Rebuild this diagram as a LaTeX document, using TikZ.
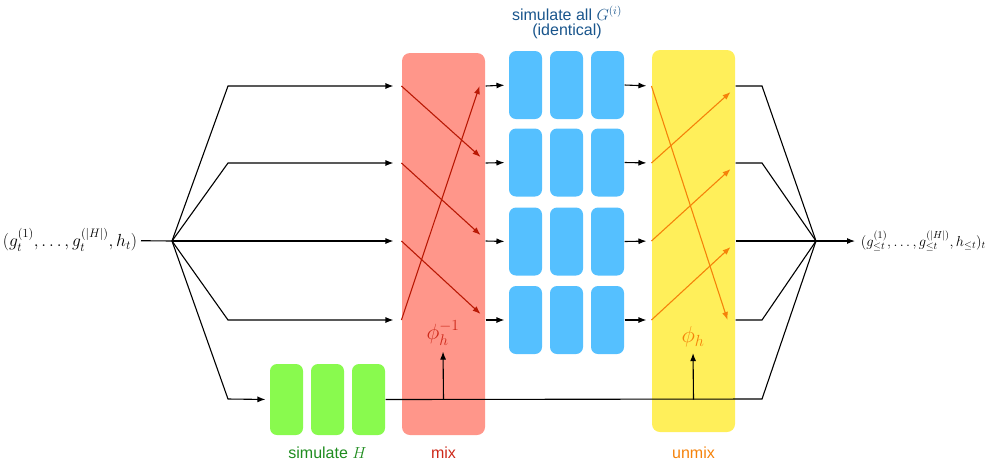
\documentclass[tikz,border=0pt]{standalone}
\usepackage{fix-cm}
\usepackage{amsmath}
\usepackage{amssymb}
\usepackage{fontspec}
\setmainfont{Liberation Sans}
\usetikzlibrary{arrows.meta,positioning}

\definecolor{mixfill}{RGB}{255,150,138}
\definecolor{mixline}{RGB}{185,25,5}
\definecolor{mixtext}{RGB}{205,40,25}
\definecolor{unmixfill}{RGB}{255,239,90}
\definecolor{unmixline}{RGB}{245,130,10}
\definecolor{gfill}{RGB}{85,192,255}
\definecolor{gtext}{RGB}{25,85,140}
\definecolor{hfill}{RGB}{137,250,78}
\definecolor{htext}{RGB}{30,140,30}

\begin{document}
\begin{tikzpicture}[
    x = 1pt, y = -1pt, % pixel grid
    > = {Latex[length=8pt,width=6pt]}, % arrow head style
    line width = 1.1pt,
    font = \fontsize{16}{19}\selectfont
    ]

    \tikzset{
    block/.style = {rounded corners = 7pt, minimum width = 33pt, inner sep = 0pt},
    gbox/.style = {block, fill = gfill, minimum height = 68pt},
    hbox/.style = {block, fill = hfill, minimum height = 71pt},
    panel/.style = {rounded corners = 8pt, minimum width = 83pt, minimum height = 382pt, inner sep = 0pt},
    lbl/.style = {inner sep = 1pt}
    }
    \useasboundingbox (0,0) rectangle (1000,467);

    % rows
    \foreach \i/\y in {1/86,2/163,3/241,4/320,5/399}
        \coordinate (r\i) at (0,\y);
    \coordinate (kl) at (228,0);
    \coordinate (kr) at (762,0);

    \node[panel, fill = mixfill] (mix) at (443.5,244) {};
    \node[panel, fill = unmixfill] (unmix) at (693.5,241) {};

    \foreach \i/\y in {1/85,2/162.5,3/241.5,4/320}{
        \foreach \j/\x in {1/525.5,2/566.5,3/607.5}
            \node[gbox] (g\i\j) at (\x,\y) {};
    }
    \foreach \j/\x in {1/286.5,2/327.5,3/368.5}
        \node[hbox] (h\j) at (\x,399.5) {};

    \node[anchor=east, font = \fontsize{17.5}{21}\selectfont] (src) at (141,240) {$(g_t^{(1)},\ldots,g_t^{(|H|)},h_t)$};
    \coordinate (split) at (172,241);
    \node[anchor=west, font = \fontsize{14.5}{17}\selectfont] (dst) at (857,241) {$(g_{\leq t}^{(1)},\ldots,g_{\leq t}^{(|H|)},h_{\leq t})_t$};
    \coordinate (join) at (816,241);

    % fan out
    \draw (src) -- (split);
    \foreach \i in {1,2,4}
        \draw[->, shorten > = 8pt] (split) -- (kl |- r\i) -- (mix.west |- r\i);
    \draw[->, shorten > = 8pt] (split) -- (mix.west |- r3);
    \draw[->, shorten > = 4pt] (split) -- (kl |- r5) -- (h1.west);

    % mix
    \foreach \i/\j in {1/2,2/3,3/4}
        \draw[->, mixline] (mix.west |- r\i) -- ([xshift=-5pt,yshift=6pt]mix.east |- r\j);
    \draw[->, mixline] (mix.west |- r4) -- ([xshift=-6pt]mix.east |- r1);
    \node[text = mixtext, font = \fontsize{22}{26}\selectfont] (phiinv) at (443,333) {$\phi_h^{-1}$};

    \foreach \i in {1,...,4}{
        \draw[->, shorten > = 4pt] (mix.east |- r\i) -- (g\i1.west);
        \draw[->, shorten > = 5pt] (g\i3.east) -- (unmix.west |- r\i);
    }

    % unmix
    \foreach \i/\j in {2/1,3/2,4/3}
        \draw[->, unmixline] (unmix.west |- r\i) -- ([xshift=-5pt,yshift=-6pt]unmix.east |- r\j);
    \draw[->, unmixline] (unmix.west |- r1) -- ([xshift=-8pt]unmix.east |- r4);
    \node[text = unmixline, font = \fontsize{23}{27}\selectfont] (phi) at (693,337) {$\phi_h$};

    % fan in
    \foreach \i in {1,2,4}
        \draw (unmix.east |- r\i) -- (kr |- r\i) -- (join);
    \draw (unmix.east |- r3) -- (join);
    \draw (h3.east) -- (kr |- r5) -- (join);
    \draw[->, shorten > = 2pt] (join) -- (dst.west);

    \draw[->, shorten > = 2pt] (mix.center |- h3.east) -- (phiinv.south);
    \draw[->, shorten > = 2pt] (unmix.center |- h3.east) -- (phi.south);

    % labels
    \node[lbl, text = gtext] (simall) at (567,13) {simulate all $G^{(i)}$};
    \node[lbl, text = gtext] (ident) at (567,31) {(identical)};
    \node[lbl, text = htext] (simh) at (327.5,453) {simulate $H$};
    \node[lbl, text = mixtext] (mixlbl) at (443.5,453) {mix};
    \node[lbl, text = unmixline] (unmixlbl) at (693.5,453) {unmix};
\end{tikzpicture}
\end{document}
